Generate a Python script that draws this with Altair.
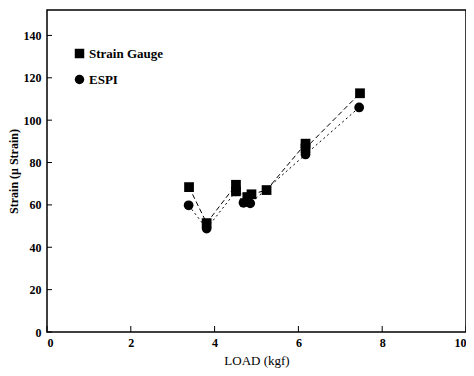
import altair as alt
import pandas as pd

# Strain Gauge series
sg_load = [3.39, 3.81, 4.51, 4.51, 4.78, 4.88, 5.24, 6.17, 6.17, 7.47]
sg_strain = [68.4, 51.4, 69.5, 66.4, 63.7, 65.0, 67.0, 88.9, 86.7, 112.7]
# ESPI series
espi_load = [3.38, 3.81, 4.51, 4.69, 4.85, 6.17, 7.45]
espi_strain = [59.8, 48.8, 66.4, 61.0, 60.7, 83.8, 106.0]

series_names = ["Strain Gauge", "ESPI"]
x_ticks = [0, 2, 4, 6, 8, 10]
y_ticks = [0, 20, 40, 60, 80, 100, 120, 140]

rows = []
for i, (x, y) in enumerate(zip(sg_load, sg_strain)):
    rows.append({"series": series_names[0], "line": "a", "load": x, "strain": y, "ord": i})
for i, (x, y) in enumerate(zip(espi_load, espi_strain)):
    rows.append({"series": series_names[1], "line": "b", "load": x, "strain": y, "ord": i})
df = pd.DataFrame(rows)

W, H = 419, 322
FONT = "Liberation Serif"

xscale = alt.Scale(domain=[0, 10], nice=False)
yscale = alt.Scale(domain=[0, 152], nice=False)

xaxis = alt.Axis(values=x_ticks, title="LOAD (kgf)", tickSize=0, domain=False, grid=False,
                 labelPadding=5, titlePadding=6, labelFont=FONT, labelFontWeight="bold",
                 labelFontSize=12, titleFont=FONT, titleFontSize=13, titleFontWeight="normal",
                 labelColor="black", titleColor="black")
yaxis = alt.Axis(values=y_ticks, title="Strain (\u03bc Strain)", tickSize=0, domain=False, grid=False,
                 labelPadding=6, titlePadding=3, labelFont=FONT, labelFontWeight="bold",
                 labelFontSize=12, titleFont=FONT, titleFontSize=12, titleFontWeight="bold",
                 labelColor="black", titleColor="black")

lines = alt.Chart(df).mark_line(color="black", strokeWidth=1).encode(
    x=alt.X("load:Q", scale=xscale, axis=xaxis),
    y=alt.Y("strain:Q", scale=yscale, axis=yaxis),
    strokeDash=alt.StrokeDash("line:N", scale=alt.Scale(domain=["a", "b"],
                              range=[[5, 3], [2, 3]]), legend=None),
    order="ord:Q",
)

points = alt.Chart(df).mark_point(filled=True, opacity=1, color="black").encode(
    x=alt.X("load:Q", scale=xscale),
    y=alt.Y("strain:Q", scale=yscale),
    shape=alt.Shape("series:N", scale=alt.Scale(domain=series_names, range=["square", "circle"]),
                    legend=alt.Legend(title=None, orient="none", legendX=26, legendY=37,
                                      labelFont=FONT, labelFontSize=13, labelFontWeight="bold",
                                      labelColor="black", symbolSize=90, symbolFillColor="black",
                                      symbolStrokeColor="black", symbolOpacity=1, rowPadding=9,
                                      labelOffset=3, padding=0)),
    size=alt.value(95),
)

ytick_df = pd.DataFrame({"v": y_ticks})
xtick_df = pd.DataFrame({"v": x_ticks})
yt = alt.Chart(ytick_df).mark_rule(color="black", strokeWidth=1).encode(
    y=alt.Y("v:Q", scale=yscale), x=alt.value(0), x2=alt.value(5))
xt = alt.Chart(xtick_df).mark_rule(color="black", strokeWidth=1).encode(
    x=alt.X("v:Q", scale=xscale), y=alt.value(H), y2=alt.value(H - 6))

chart = alt.layer(lines, points, yt, xt).properties(
    width=W, height=H,
    background="white",
    autosize=alt.AutoSizeParams(type="none"),
    padding={"left": 39, "top": 2, "right": 0, "bottom": 36},
).configure(font=FONT).configure_view(stroke="black", strokeWidth=1.5)

chart.save("out.html", embed_options={"renderer": "svg", "actions": False})
